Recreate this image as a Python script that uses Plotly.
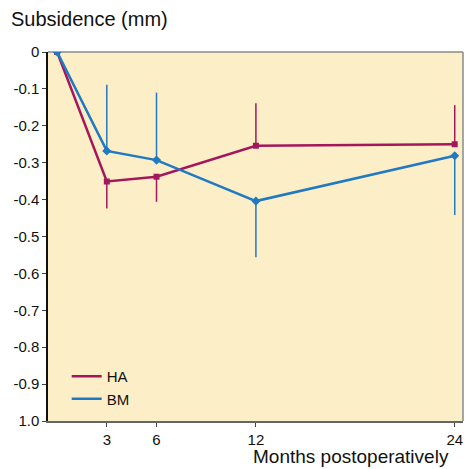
import plotly.graph_objects as go

months = [0, 3, 6, 12, 24]
ha_mean = [0, -0.351, -0.338, -0.254, -0.250]
ha_err_up = [0, 0, 0, 0.115, 0.106]
ha_err_down = [0, 0.073, 0.068, 0, 0]
bm_mean = [0, -0.268, -0.293, -0.404, -0.281]
bm_err_up = [0, 0.179, 0.183, 0, 0]
bm_err_down = [0, 0, 0, 0.152, 0.161]

y_tickvals = [0, -0.1, -0.2, -0.3, -0.4, -0.5, -0.6, -0.7, -0.8, -0.9, -1.0]
y_ticktext = ["0", "-0.1", "-0.2", "-0.3", "-0.4", "-0.5", "-0.6", "-0.7", "-0.8", "-0.9", "1.0"]
x_tickvals = [3, 6, 12, 24]

HA_COLOR = "#a3175c"
BM_COLOR = "#2079c2"
FONT = "Liberation Sans, Arial, sans-serif"

fig = go.Figure()
series = [("HA", ha_mean, ha_err_up, ha_err_down, HA_COLOR, "square", 6),
          ("BM", bm_mean, bm_err_up, bm_err_down, BM_COLOR, "diamond", 7)]
for name, mean, up, down, color, sym, size in series:
    fig.add_trace(go.Scatter(
        x=months, y=mean, name=name, mode="lines+markers", showlegend=False,
        line=dict(color=color, width=2.5),
        marker=dict(symbol=sym, size=size, color=color),
        error_y=dict(type="data", symmetric=False, array=up, arrayminus=down,
                     color=color, thickness=1.5, width=0),
    ))
for name, mean, up, down, color, sym, size in series:
    fig.add_trace(go.Scatter(
        x=[None], y=[None], name=name, mode="lines", showlegend=True,
        line=dict(color=color, width=2.5),
    ))

fig.update_layout(
    width=467, height=469,
    margin=dict(l=48, r=4, t=52, b=48),
    paper_bgcolor="white",
    plot_bgcolor="#fcefc8",
    font=dict(family=FONT, size=15, color="#111111"),
    showlegend=True,
    legend=dict(x=0.045, y=0.165, xanchor="left", yanchor="top",
                bgcolor="rgba(0,0,0,0)", font=dict(size=15),
                itemwidth=30, tracegroupgap=0),
    xaxis=dict(range=[-0.55, 24.5], tickvals=x_tickvals, showgrid=False, zeroline=False,
               showline=True, linecolor="#666666", linewidth=1.5,
               ticks="outside", ticklen=4, tickcolor="#444444",
               tickfont=dict(size=15)),
    yaxis=dict(range=[-1.0, 0.0], tickvals=y_tickvals, ticktext=y_ticktext,
               showgrid=False, zeroline=False,
               showline=True, linecolor="#111111", linewidth=1.5,
               ticks="outside", ticklen=4, tickcolor="#444444",
               tickfont=dict(size=15)),
    shapes=[
        dict(type="line", xref="paper", yref="paper", x0=0, x1=1, y0=1, y1=1,
             line=dict(color="#8a8a8a", width=1.5), layer="below"),
        dict(type="line", xref="paper", yref="paper", x0=1, x1=1, y0=0, y1=1,
             line=dict(color="#8a8a8a", width=1.5), layer="below"),
    ],
    annotations=[
        dict(text="Subsidence (mm)", xref="paper", yref="paper", x=-0.094, y=1.0,
             xanchor="left", yanchor="bottom", yshift=20, showarrow=False,
             font=dict(size=20, color="#111111")),
        dict(text="Months postoperatively", xref="paper", yref="paper", x=0.49, y=0,
             xanchor="left", yanchor="top", yshift=-23, showarrow=False,
             font=dict(size=19, color="#111111")),
    ],
)

fig.write_html("out.html", config={"displayModeBar": False},
               post_script="document.body.style.margin='0';")
